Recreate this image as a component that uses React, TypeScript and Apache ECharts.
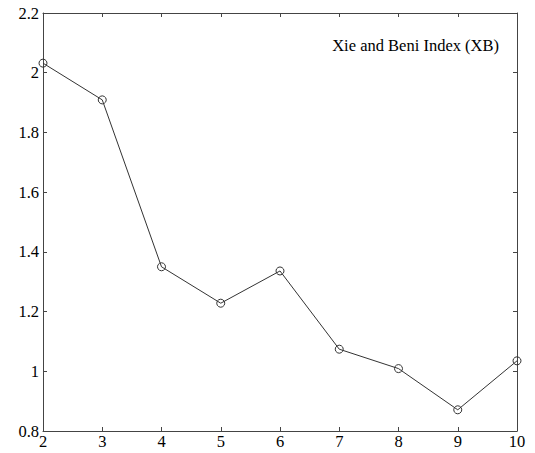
import React, { useEffect, useRef } from "react";
import * as echarts from "echarts";

const clusters = ["2", "3", "4", "5", "6", "7", "8", "9", "10"];
const xbValues = [2.032, 1.909, 1.35, 1.228, 1.336, 1.074, 1.009, 0.871, 1.035];
const titleText = "Xie and Beni Index (XB)";

const FONT = "Liberation Serif";

export default function App() {
  const ref = useRef<HTMLDivElement>(null);
  useEffect(() => {
    if (!ref.current) return;
    const chart = echarts.init(ref.current, null, { renderer: "svg" });
    const data = clusters.map((c, i) => [Number(c), xbValues[i]]);
    const axisLine = { show: true, lineStyle: { color: "#444", width: 1 } };
    const tick = { show: true, inside: true, length: 4, lineStyle: { color: "#444", width: 1 } };
    const label = { color: "#000", fontFamily: FONT, fontSize: 16.5 };
    chart.setOption({
      animation: false,
      backgroundColor: "#fff",
      grid: { left: 43, right: 18, top: 13, bottom: 22, containLabel: false },
      xAxis: [
        {
          type: "value", min: 2, max: 10, interval: 1, position: "bottom",
          axisLine, axisTick: tick, splitLine: { show: false },
          axisLabel: { ...label, margin: 2 },
        },
        {
          type: "value", min: 2, max: 10, interval: 1, position: "top",
          axisLine, axisTick: tick, splitLine: { show: false },
          axisLabel: { show: false },
        },
      ],
      yAxis: [
        {
          type: "value", min: 0.8, max: 2.2, interval: 0.2, position: "left",
          axisLine, axisTick: tick, splitLine: { show: false },
          axisLabel: {
            ...label, margin: 4,
            formatter: (v: number) => String(Math.round(v * 10) / 10),
          },
        },
        {
          type: "value", min: 0.8, max: 2.2, interval: 0.2, position: "right",
          axisLine, axisTick: tick, splitLine: { show: false },
          axisLabel: { show: false },
        },
      ],
      graphic: [
        {
          type: "text", x: 499, y: 45,
          style: {
            text: titleText, fill: "#000", font: `16.5px ${FONT}`,
            textAlign: "right", textVerticalAlign: "middle",
          },
        },
      ],
      series: [
        {
          type: "line", data,
          symbol: "circle", symbolSize: 8, showSymbol: true,
          lineStyle: { color: "#333", width: 1 },
          itemStyle: { color: "rgba(255,255,255,0)", borderColor: "#333", borderWidth: 1 },
        },
      ],
    });
    return () => chart.dispose();
  }, []);
  return <div ref={ref} style={{ width: 535, height: 453, position: "absolute", left: 0, top: 0 }} />;
}
